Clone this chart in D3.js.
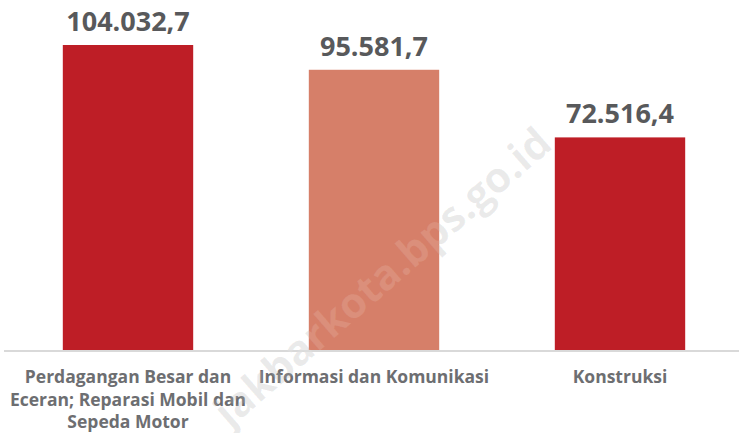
<!DOCTYPE html>
<html>
<head>
<meta charset="utf-8">
<script src="https://cdn.jsdelivr.net/npm/d3@7"></script>
<style>
  body { margin: 0; background: #fff; }
  text { font-family: "Open Sans", sans-serif; font-weight: 700; }
</style>
</head>
<body>
<div id="chart"></div>
<script>
const categories = [
  ["Perdagangan Besar dan", "Eceran; Reparasi Mobil dan", "Sepeda Motor"],
  ["Informasi dan Komunikasi"],
  ["Konstruksi"]
];
const values = [104032.7, 95581.7, 72516.4];
const valueLabels = ["104.032,7", "95.581,7", "72.516,4"];
const barColors = ["#be1e26", "#d67f69", "#be1e26"];

const W = 739, H = 433;
const BASE = 350, TOP = 45;

const svg = d3.select("#chart").append("svg")
  .attr("width", W).attr("height", H);

const x = d3.scaleBand()
  .domain(d3.range(values.length))
  .range([5, 743])
  .paddingInner(0.47)
  .paddingOuter(0.235);

const y = d3.scaleLinear()
  .domain([0, d3.max(values)])
  .range([BASE, TOP]);

// watermark (behind)
svg.append("text")
  .attr("transform", "translate(392,288) rotate(-41)")
  .attr("text-anchor", "middle")
  .attr("font-size", 42)
  .attr("fill", "#000")
  .attr("fill-opacity", 0.09)
  .text("jakbarkota.bps.go.id");

// bars
svg.selectAll(".bar")
  .data(values)
  .join("rect")
  .attr("class", "bar")
  .attr("x", (d, i) => x(i))
  .attr("y", d => y(d))
  .attr("width", x.bandwidth())
  .attr("height", d => BASE - y(d))
  .attr("fill", (d, i) => barColors[i]);

// baseline
svg.append("line")
  .attr("x1", 4).attr("x2", W)
  .attr("y1", BASE + 1).attr("y2", BASE + 1)
  .attr("stroke", "#d9d9d9").attr("stroke-width", 2);

// value labels
svg.selectAll(".val")
  .data(values)
  .join("text")
  .attr("class", "val")
  .attr("x", (d, i) => x(i) + x.bandwidth() / 2)
  .attr("y", d => y(d) - 14)
  .attr("text-anchor", "middle")
  .attr("font-size", 27)
  .attr("fill", "#58595b")
  .text((d, i) => valueLabels[i]);

// category labels
const cat = svg.selectAll(".cat")
  .data(categories)
  .join("text")
  .attr("class", "cat")
  .attr("text-anchor", "middle")
  .attr("font-size", 17.5)
  .attr("fill", "#6d6e71");
cat.selectAll("tspan")
  .data((d, i) => d.map(t => ({ t, i })))
  .join("tspan")
  .attr("x", d => x(d.i) + x.bandwidth() / 2)
  .attr("y", (d, j) => 383 + j * 22.5)
  .text(d => d.t);

// watermark overlay on bars
svg.append("text")
  .attr("transform", "translate(392,288) rotate(-41)")
  .attr("text-anchor", "middle")
  .attr("font-size", 42)
  .attr("fill", "#fff")
  .attr("fill-opacity", 0.12)
  .text("jakbarkota.bps.go.id");
</script>
</body>
</html>
